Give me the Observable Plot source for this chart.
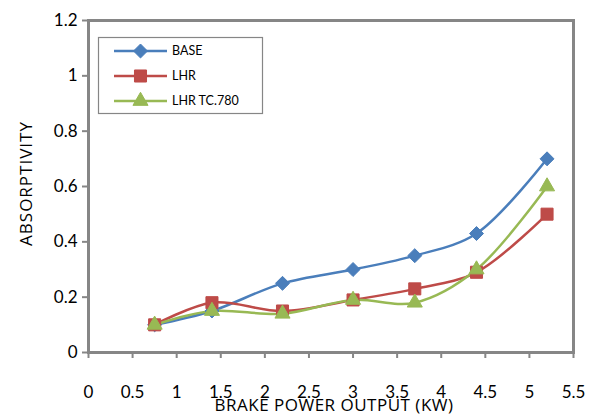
<!DOCTYPE html>
<html>
<head>
<meta charset="utf-8">
<script src="https://cdn.jsdelivr.net/npm/d3@7"></script>
<script src="https://cdn.jsdelivr.net/npm/@observablehq/plot@0.6"></script>
<style>
  body { margin: 0; background: #fff; }
  #chart { width: 600px; height: 414px; }
</style>
</head>
<body>
<div id="chart"></div>
<script>
// Brake power output (kW) for each test point
const power = [0.75, 1.4, 2.2, 3, 3.7, 4.4, 5.2];

// Absorptivity for each engine configuration
const base  = [0.10, 0.15, 0.25, 0.30, 0.35, 0.43, 0.70];
const lhr   = [0.10, 0.18, 0.15, 0.19, 0.23, 0.29, 0.50];
const lhrTc = [0.10, 0.15, 0.14, 0.19, 0.18, 0.30, 0.60];

const seriesNames   = ["BASE", "LHR", "LHR TC.780"];
const seriesColors  = ["#4A7EBB", "#BE4B48", "#98B954"];
const seriesSymbols = ["diamond2", "square", "triangle"];
const seriesRadius  = [6.3, 6.8, 5.6];

const xTicks = [0, 0.5, 1, 1.5, 2, 2.5, 3, 3.5, 4, 4.5, 5, 5.5];
const yTicks = [0, 0.2, 0.4, 0.6, 0.8, 1, 1.2];

const xTitle = "BRAKE POWER OUTPUT (KW)";
const yTitle = "ABSORPTIVITY";

const seriesValues = [base, lhr, lhrTc];
const rows = seriesNames.flatMap((name, s) =>
  power.map((x, i) => ({series: name, x, y: seriesValues[s][i]}))
);

const gray = "#868686";
const font = "Lato, 'Open Sans', sans-serif";
const titleFont = "'Open Sans', Lato, sans-serif";

const plot = Plot.plot({
  width: 600,
  height: 414,
  marginLeft: 88,
  marginRight: 27,
  marginTop: 20,
  marginBottom: 62,
  style: {fontFamily: font, fontSize: "17px", background: "#fff", color: "#000"},
  x: {domain: [0, 5.5]},
  y: {domain: [0, 1.2]},
  color: {domain: seriesNames, range: seriesColors},
  marks: [
    Plot.axisY({
      ticks: yTicks, tickSize: 6, tickPadding: 5, tickFormat: d => String(d),
      stroke: gray, strokeWidth: 2, fill: "#000", label: null
    }),
    Plot.axisX({
      ticks: xTicks, tickSize: 6, tickPadding: 27, tickFormat: d => String(d),
      stroke: gray, strokeWidth: 2, fill: "#000", label: null
    }),
    Plot.frame({stroke: gray, strokeWidth: 3}),
    Plot.line(rows, {
      x: "x", y: "y", z: "series", stroke: "series",
      curve: "catmull-rom", strokeWidth: 2.5
    }),
    ...seriesNames.map((name, s) =>
      Plot.dot(rows.filter(d => d.series === name), {
        x: "x", y: "y", symbol: seriesSymbols[s], r: seriesRadius[s],
        fill: seriesColors[s], stroke: seriesColors[s], strokeWidth: 1
      })
    ),
    Plot.text([yTitle], {
      text: d => d, frameAnchor: "left", textAnchor: "middle", lineAnchor: "bottom",
      dx: -57, dy: -3, rotate: -90,
      fontFamily: titleFont, fontSize: 17, fill: "#000", className: "ytitle"
    }),
    Plot.text([xTitle], {
      text: d => d, frameAnchor: "bottom", textAnchor: "middle", lineAnchor: "bottom",
      dx: 3, dy: 58,
      fontFamily: titleFont, fontSize: 17, fill: "#000", className: "xtitle"
    })
  ]
});

const svg = d3.select(plot);
svg.selectAll(".ytitle text").attr("letter-spacing", "1px");
svg.selectAll(".xtitle text").attr("letter-spacing", "0.5px");

// Legend box in the upper-left corner of the plot area
const legend = svg.append("g")
  .attr("font-family", font).attr("font-size", 12.5).attr("text-anchor", "start");
legend.append("rect")
  .attr("x", 98.5).attr("y", 37.5).attr("width", 164).attr("height", 76)
  .attr("fill", "#fff").attr("stroke", gray).attr("stroke-width", 1.2);

const symbolTypes = {diamond2: d3.symbolDiamond2, square: d3.symbolSquare, triangle: d3.symbolTriangle};
seriesNames.forEach((name, s) => {
  const y = 51 + s * 25;
  const g = legend.append("g");
  g.append("line")
    .attr("x1", 114).attr("x2", 167).attr("y1", y).attr("y2", y)
    .attr("stroke", seriesColors[s]).attr("stroke-width", 2.5);
  g.append("path")
    .attr("transform", `translate(140.5,${y})`)
    .attr("d", d3.symbol(symbolTypes[seriesSymbols[s]], Math.PI * seriesRadius[s] ** 2)())
    .attr("fill", seriesColors[s]).attr("stroke", seriesColors[s]);
  g.append("text")
    .attr("x", 172).attr("y", y).attr("dy", "0.35em")
    .attr("text-anchor", "start")
    .attr("fill", "#000").text(name);
});

document.getElementById("chart").appendChild(plot);
</script>
</body>
</html>
